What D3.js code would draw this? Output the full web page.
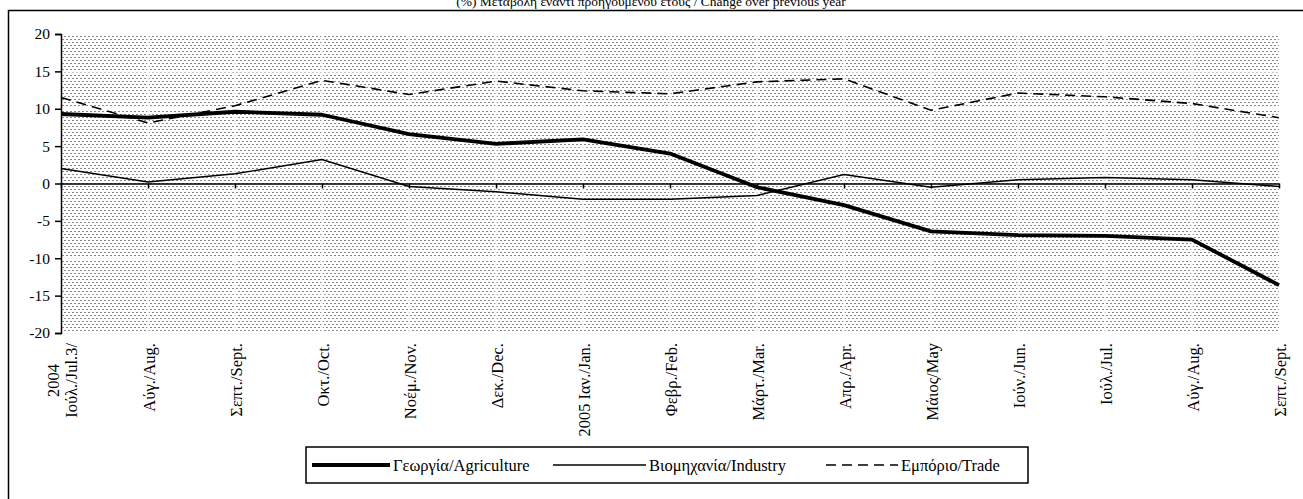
<!DOCTYPE html>
<html>
<head>
<meta charset="utf-8">
<script src="https://cdn.jsdelivr.net/npm/d3@7"></script>
<style>
  html, body { margin: 0; padding: 0; background: #fff; }
  svg { display: block; }
  text { font-family: "Liberation Serif", "Times New Roman", serif; fill: #000; }
</style>
</head>
<body>
<svg id="chart" width="1303" height="499"></svg>
<script>
// ---- data ----
const title = "(%) Μεταβολή έναντι προηγούμενου έτους / Change over previous year";
const categories = [
  "2004\nΙούλ./Jul.3/", "Αύγ./Aug.", "Σεπτ./Sept.", "Οκτ./Oct.", "Νοέμ./Nov.",
  "Δεκ./Dec.", "2005 Ιαν./Jan.", "Φεβρ./Feb.", "Μάρτ./Mar.", "Απρ./Apr.",
  "Μάιος/May", "Ιούν./Jun.", "Ιούλ./Jul.", "Αύγ./Aug.", "Σεπτ./Sept."
];
const agriculture = [9.3, 8.8, 9.6, 9.2, 6.6, 5.3, 5.9, 4.0, -0.5, -2.9, -6.4, -6.9, -7.0, -7.5, -13.6];
const industry    = [2.0, 0.2, 1.3, 3.2, -0.4, -1.1, -2.1, -2.1, -1.6, 1.2, -0.5, 0.5, 0.8, 0.5, -0.4];
const trade       = [11.5, 8.1, 10.4, 13.8, 11.9, 13.7, 12.4, 12.0, 13.6, 14.0, 9.8, 12.1, 11.6, 10.7, 8.8];
const yTicks = [-20, -15, -10, -5, 0, 5, 10, 15, 20];
const seriesNames = ["Γεωργία/Agriculture", "Βιομηχανία/Industry", "Εμπόριο/Trade"];

// ---- layout ----
const svg = d3.select("#chart");
const plot = { left: 61, right: 1279, top: 34, bottom: 333 };
const x = d3.scalePoint().domain(d3.range(categories.length)).range([plot.left, plot.right]);
const y = d3.scaleLinear().domain([-20, 20]).range([plot.bottom, plot.top]);

// outer border
svg.append("rect").attr("x", 8.5).attr("y", 10.5).attr("width", 1310).attr("height", 510)
  .attr("fill", "none").attr("stroke", "#000").attr("stroke-width", 1.5);

// title
svg.append("text").attr("x", 651).attr("y", 6).attr("text-anchor", "middle")
  .style("font-size", "13.5px").text(title);

// dotted pattern
const defs = svg.append("defs");
const pat = defs.append("pattern").attr("id", "dots").attr("patternUnits", "userSpaceOnUse")
  .attr("width", 4).attr("height", 6);
pat.append("rect").attr("width", 4).attr("height", 6).attr("fill", "#fff");
pat.append("rect").attr("x", 0).attr("y", 0).attr("width", 2).attr("height", 1).attr("fill", "#888");
pat.append("rect").attr("x", 2).attr("y", 3).attr("width", 2).attr("height", 1).attr("fill", "#888");

svg.append("rect").attr("x", plot.left).attr("y", plot.top)
  .attr("width", plot.right - plot.left).attr("height", plot.bottom - plot.top)
  .attr("fill", "url(#dots)");

// white gridlines
const grid = svg.append("g");
grid.selectAll("line.h").data(yTicks.filter(d => d !== 0 && Math.abs(d) !== 20)).join("line")
  .attr("x1", plot.left).attr("x2", plot.right)
  .attr("y1", d => y(d)).attr("y2", d => y(d))
  .attr("stroke", "#fff").attr("stroke-width", 2);
grid.selectAll("line.v").data(d3.range(1, categories.length - 1)).join("line")
  .attr("x1", d => x(d)).attr("x2", d => x(d))
  .attr("y1", plot.top).attr("y2", plot.bottom)
  .attr("stroke", "#fff").attr("stroke-width", 1.5);

// y axis
const yAxis = svg.append("g").attr("transform", `translate(${plot.left},0)`)
  .call(d3.axisLeft(y).tickValues(yTicks).tickSize(6).tickFormat(d => String(d)));
yAxis.select(".domain").attr("stroke-width", 1.5);
yAxis.selectAll(".tick line").attr("stroke-width", 1.5);
yAxis.selectAll("text").style("font-size", "15.5px").style("font-family", "Liberation Serif, serif").attr("x", -11);

// x axis at zero
const xAxis = svg.append("g").attr("transform", `translate(0,${y(0)})`)
  .call(d3.axisBottom(x).tickSize(5).tickSizeOuter(0).tickFormat(""));
xAxis.select(".domain").attr("stroke-width", 1.5);
xAxis.selectAll(".tick line").attr("stroke-width", 1.5);

// category labels (rotated, top-aligned)
const labTop = 343;
const labFont = 16.5;
const labels = svg.append("g");
categories.forEach((c, i) => {
  const lines = c.split("\n");
  const g = labels.append("g");
  const t = g.append("text").attr("text-anchor", "middle").style("font-size", labFont + "px");
  lines.forEach((ln, j) => {
    t.append("tspan").attr("x", 0).attr("dy", j === 0 ? 0 : "1.1em").text(ln);
  });
  let maxLen = 0;
  t.selectAll("tspan").each(function () { maxLen = Math.max(maxLen, this.getComputedTextLength()); });
  const n = lines.length;
  const cx = x(i) - (n - 1) * 0.55 * labFont;
  g.attr("transform", `translate(${cx + 0.35 * labFont + 1},${labTop + maxLen / 2}) rotate(-90)`);
});

// lines
const line = d3.line().x((d, i) => x(i)).y(d => y(d));
svg.append("path").datum(industry).attr("d", line).attr("fill", "none")
  .attr("stroke", "#000").attr("stroke-width", 1.4);
svg.append("path").datum(trade).attr("d", line).attr("fill", "none")
  .attr("stroke", "#000").attr("stroke-width", 1.6).attr("stroke-dasharray", "10,6");
svg.append("path").datum(agriculture).attr("d", line).attr("fill", "none")
  .attr("stroke", "#000").attr("stroke-width", 3.8).attr("stroke-linejoin", "round");

// legend
const leg = svg.append("g");
leg.append("rect").attr("x", 306).attr("y", 447).attr("width", 722).attr("height", 36)
  .attr("fill", "#fff").attr("stroke", "#000").attr("stroke-width", 1.5);
const legItems = [
  { name: seriesNames[0], x0: 312, x1: 390, w: 3.8, dash: null },
  { name: seriesNames[1], x0: 553, x1: 646, w: 1.4, dash: null },
  { name: seriesNames[2], x0: 826, x1: 898, w: 1.6, dash: "10,6" }
];
const legY = 465;
legItems.forEach(it => {
  leg.append("line").attr("x1", it.x0).attr("x2", it.x1).attr("y1", legY).attr("y2", legY)
    .attr("stroke", "#000").attr("stroke-width", it.w).attr("stroke-dasharray", it.dash);
  leg.append("text").attr("x", it.x1 + 3).attr("y", legY + 5.5).style("font-size", "16.5px").text(it.name);
});
</script>
</body>
</html>
